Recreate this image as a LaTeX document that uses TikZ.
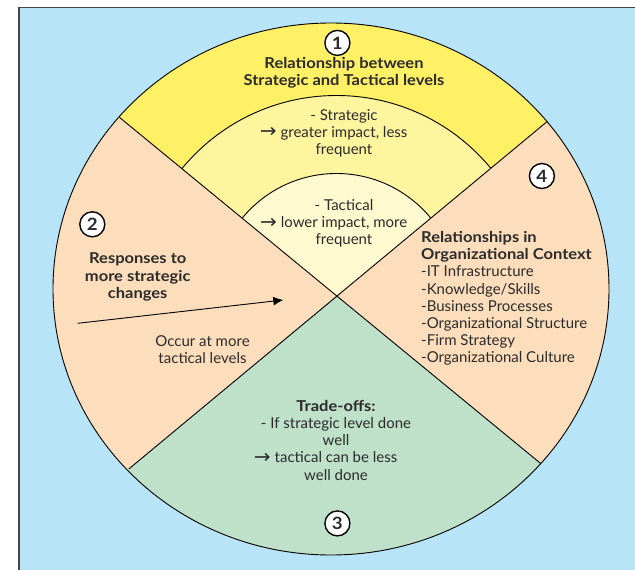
\documentclass[tikz,border=0pt]{standalone}
\usepackage{fontspec}
\setmainfont{Lato}[BoldFeatures={FakeStretch=1.1}]
\newfontfamily\arrowfont{DejaVu Sans}
\usetikzlibrary{arrows.meta,calc}
\definecolor{bgblue}{HTML}{B8E4F8}
\definecolor{yel}{HTML}{FFF066}
\definecolor{yelmid}{HTML}{FFF59E}
\definecolor{yellight}{HTML}{FFF9CF}
\definecolor{peach}{HTML}{FDDEBC}
\definecolor{sage}{HTML}{BFE1CA}
\definecolor{ink}{HTML}{2B2B2B}
\definecolor{frame}{HTML}{464646}
\newcommand{\txtarrow}{\llap{\raisebox{-0.5pt}{\scalebox{1.25}[1.2]{\arrowfont\fontsize{16}{17.2}\selectfont→}}\hspace{4pt}}}
\begin{document}
\begin{tikzpicture}[x=1pt,y=-1pt,
  txt/.style={font=\fontsize{15}{17.2}\selectfont, text=ink, align=center, inner sep=0pt},
  boldtxt/.style={txt, font=\fontsize{15}{17.2}\selectfont\bfseries},
  num/.style={circle, draw=black, line width=1.4pt, fill=white, minimum size=25pt, inner sep=0pt, text=ink, font=\fontsize{17}{17}\selectfont\bfseries},
  edge/.style={draw=black, line width=0.9pt}]
\useasboundingbox (0,0) rectangle (635,570);
\fill[white] (0,0) rectangle (635,570);
\fill[bgblue] (19,7.5) rectangle (635,570);
\draw[line width=1.5pt, draw=frame] (19,570) -- (19,7.5) -- (635,7.5);

\coordinate (O) at (331,289);
\coordinate (C) at (336.5,295.5);
\coordinate (TL) at (119.5,117.4);
\coordinate (TR) at (546.8,121.8);
\coordinate (BL) at (128.8,469);
\coordinate (BR) at (540.7,463.5);

\begin{scope}
  \clip (O) ellipse [x radius=278pt, y radius=266pt];
  \fill[peach] (O) ellipse [x radius=278pt, y radius=266pt];
  \fill[yel] (C) -- ($(C)!3!(TL)$) -- ($(C)!3!(TR)$) -- cycle;
  \fill[sage] (C) -- ($(C)!3!(BL)$) -- ($(C)!3!(BR)$) -- cycle;
\end{scope}
\begin{scope}
  \clip (C) -- ($(C)!3!(TL)$) -- ($(C)!3!(TR)$) -- cycle;
  \filldraw[fill=yelmid, edge] (C) circle [radius=200pt];
  \filldraw[fill=yellight, edge] (C) circle [radius=122pt];
\end{scope}
\draw[edge] (TL) -- (BR);
\draw[edge] (TR) -- (BL);
\draw[edge] (O) ellipse [x radius=278pt, y radius=266pt];

\node[num] (n1) at (337.4,42.9) {1};
\node[num] (n2) at (92.3,224.3) {2};
\node[num] (n3) at (337.4,523.4) {3};
\node[num] (n4) at (541.9,176) {4};

\node[boldtxt] (title) at (344,72.4) {Relationship between\\Strategic and Tactical levels};
\node[txt] (strat) at (344,133.3) {- Strategic\\\txtarrow greater impact, less\\frequent};
\node[txt] (tact) at (344,223.5) {- Tactical\\\txtarrow lower impact, more\\frequent};
\node[boldtxt] (resp) at (137.7,277) {Responses to\\more strategic\\changes};
\coordinate (a1) at (77.7,323.3);
\coordinate (a2) at (283.3,300);
\draw[line width=0.9pt, -{Latex[length=10pt,width=9pt]}] (a1) -- (a2);
\node[txt] (occur) at (202.5,350) {Occur at more\\tactical levels};
\node[txt, align=left, anchor=west] (ctx) at (421,298.5) {\textbf{Relationships in}\\\textbf{Organizational Context}\\-IT Infrastructure\\-Knowledge/Skills\\-Business Processes\\-Organizational Structure\\-Firm Strategy\\-Organizational Culture};
\node[txt] (trade) at (336,440.2) {\textbf{Trade-offs:}\\- If strategic level done\\well\\\txtarrow tactical can be less\\well done};
\end{tikzpicture}
\end{document}
